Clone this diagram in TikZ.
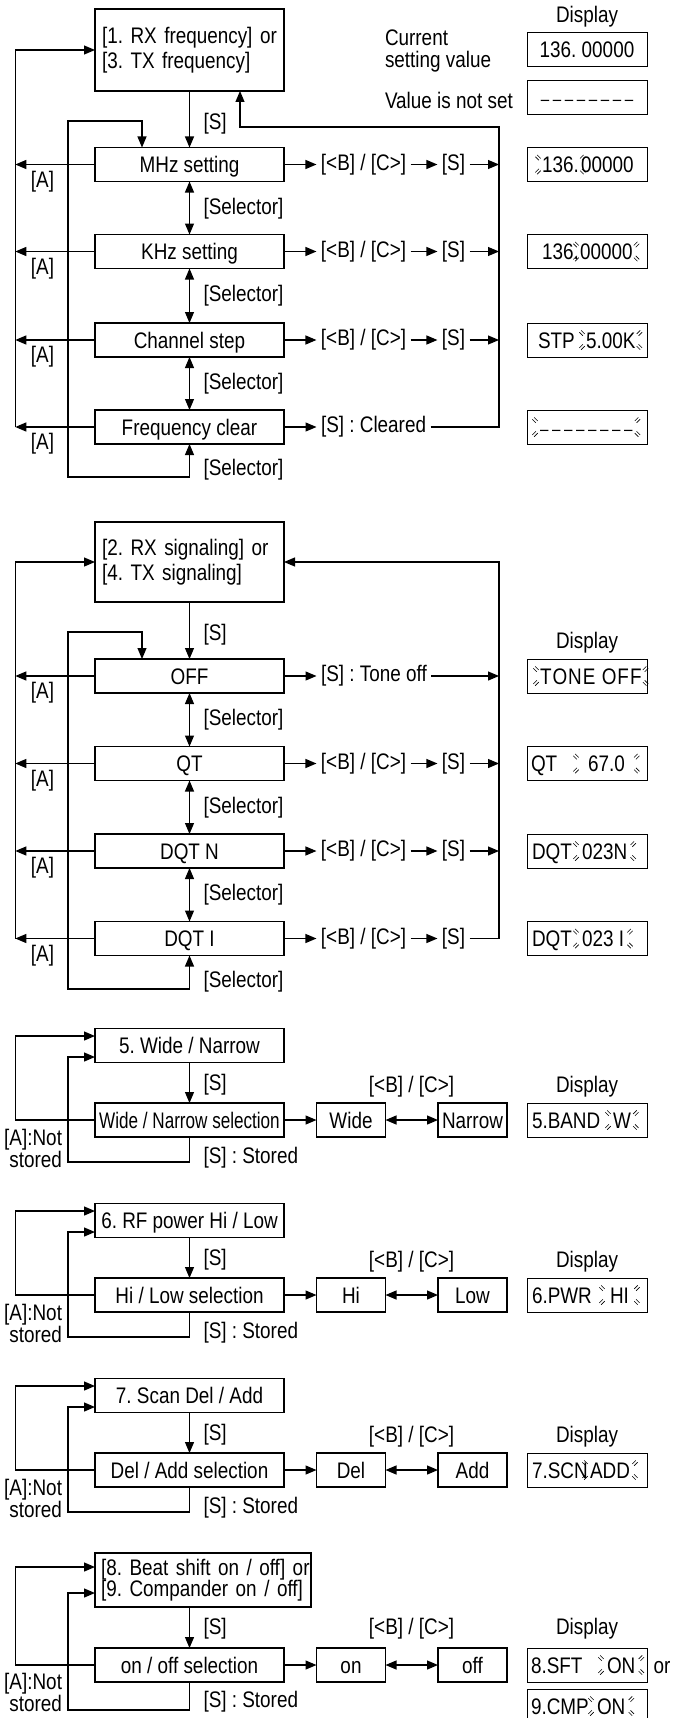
\documentclass[tikz,border=0pt]{standalone}
\usepackage{fontspec}
\setmainfont{Liberation Sans}[FakeStretch=0.84]
\newfontfamily\narrowfont{Liberation Sans}[FakeStretch=0.76]
\usetikzlibrary{arrows.meta}
\frenchspacing
\tikzset{
  every node/.style={font=\fontsize{22.5}{25}\selectfont, inner sep=0pt, outer sep=0pt},
  conn/.style={line width=1.2pt},
  arr/.style={conn, -{Triangle[length=11pt,width=9pt]}},
  darr/.style={conn, {Triangle[length=11pt,width=9pt]}-{Triangle[length=11pt,width=9pt]}},
  bx/.style={draw, line width=1.8pt, minimum width=189pt, minimum height=34pt},
  box/.style={bx, text height=16pt, text depth=0pt},
  sbox/.style={draw, line width=1.6pt, minimum width=69pt, minimum height=34pt, text height=16pt, text depth=0pt},
  dbox/.style={draw, line width=1pt, minimum width=120pt, minimum height=34pt, text height=16pt, text depth=0pt},
  lbl/.style={anchor=west},
  klbl/.style={inner xsep=4.5pt},
  dtxt/.style={anchor=base west},
  blk/.style={anchor=base west, inner xsep=#1},
  blk/.default=1pt,
  mk/.style={line width=0.6pt},
  anot/.style={anchor=east, align=right, font=\fontsize{22.5}{20}\selectfont},
}
\newcommand\dashrow{{\fontsize{18}{20}\selectfont –\kern3.6pt–\kern3.6pt–\kern3.6pt–\kern3.6pt–\kern3.6pt–\kern3.6pt–\kern3.6pt–}}
\newcommand\mkA[1]{\draw[mk] ([shift={(-0.85,-2.69)}]#1) -- ([shift={(2.69,0.85)}]#1) ([shift={(-2.69,-0.85)}]#1) -- ([shift={(0.85,2.69)}]#1);}
\newcommand\mkB[1]{\draw[mk] ([shift={(-0.85,2.69)}]#1) -- ([shift={(2.69,-0.85)}]#1) ([shift={(-2.69,0.85)}]#1) -- ([shift={(0.85,-2.69)}]#1);}
\newcommand\blinkmarks[1]{%
  \coordinate (#1-a) at ([shift={(-3,0.8)}]#1.north west);
  \coordinate (#1-b) at ([shift={(3,0.8)}]#1.north east);
  \coordinate (#1-c) at ([shift={(-3,-1.2)}]#1.south west);
  \coordinate (#1-d) at ([shift={(3,-1.2)}]#1.south east);
  \mkA{#1-a}\mkB{#1-b}\mkB{#1-c}\mkA{#1-d}}
\begin{document}
\frenchspacing
\begin{tikzpicture}[x=1pt,y=-1pt]
\useasboundingbox (0,0) rectangle (686,1718);

% ================= Section 1
\node[bx, minimum height=82pt, text width=175pt, inner xsep=7pt, align=left] (top1) at (189.5,50) {\mbox{[1. RX frequency] or}\\\mbox{[3. TX frequency]}};
\node[box] (mhz) at (189.5,164.5) {MHz setting};
\node[box] (khz) at (189.5,251.5) {KHz setting};
\node[box] (chs) at (189.5,340) {Channel step};
\node[box] (fqc) at (189.5,427) {Frequency clear};

\coordinate (o1t) at (15.3,50);
\coordinate (o1b) at (15.3,427);
\coordinate (l1a) at (142,121);
\coordinate (l1b) at (68,121);
\coordinate (l1c) at (68,477);
\coordinate (l1d) at (189.5,477);
\coordinate (r1b) at (499,427);
\coordinate (r1t) at (499,127);
\coordinate (r1l) at (240,127);

\draw[arr] (top1.south) -- (mhz.north);
\draw[darr] (mhz.south) -- (khz.north);
\draw[darr] (khz.south) -- (chs.north);
\draw[darr] (chs.south) -- (fqc.north);
\draw[darr] (mhz.north -| l1a) -- (l1a) -- (l1b) -- (l1c) -- (l1d) -- (fqc.south);

\draw[arr] (mhz.west) -- (mhz.west -| o1b);
\draw[arr] (khz.west) -- (khz.west -| o1b);
\draw[arr] (chs.west) -- (chs.west -| o1b);
\draw[arr] (fqc.west) -- (o1b);
\draw[arr] (o1b) -- (o1t) -- (top1.west);

\node[klbl] (bc1) at (363.5,164.5) {[<B] / [C>]};
\node[klbl] (s1) at (453.5,164.5) {[S]};
\node[klbl] (bc2) at (363.5,251.5) {[<B] / [C>]};
\node[klbl] (s2) at (453.5,251.5) {[S]};
\node[klbl] (bc3) at (363.5,340) {[<B] / [C>]};
\node[klbl] (s3) at (453.5,340) {[S]};
\node[klbl, anchor=west] (clr) at (316.5,427) {[S] : Cleared};
\draw[arr] (mhz.east) -- (bc1.west);
\draw[arr] (bc1.east) -- (s1.west);
\draw[arr] (s1.east) -- (s1.east -| r1b);
\draw[arr] (khz.east) -- (bc2.west);
\draw[arr] (bc2.east) -- (s2.west);
\draw[arr] (s2.east) -- (s2.east -| r1b);
\draw[arr] (chs.east) -- (bc3.west);
\draw[arr] (bc3.east) -- (s3.west);
\draw[arr] (s3.east) -- (s3.east -| r1b);
\draw[arr] (fqc.east) -- (clr.west);
\draw[arr] (clr.east) -- (r1b) -- (r1t) -- (r1l) -- (r1l |- top1.south);

\node[lbl] (ls1) at (203.5,124) {[S]};
\node[lbl] (sel1a) at (203.5,208.5) {[Selector]};
\node[lbl] (sel1b) at (203.5,296) {[Selector]};
\node[lbl] (sel1c) at (203.5,383.5) {[Selector]};
\node[lbl] (sel1d) at (203.5,470) {[Selector]};
\node (a1a) at (42.5,181.5) {[A]};
\node (a1b) at (42.5,268.5) {[A]};
\node (a1c) at (42.5,357) {[A]};
\node (a1d) at (42.5,444) {[A]};

\node (hd1) at (587,17) {Display};
\node[anchor=west, align=left, font=\fontsize{22.5}{22}\selectfont] (cur) at (385,51) {Current\\setting value};
\node[dbox] (d1) at (587,50) {136. 00000};
\node[anchor=west] (vns) at (385,100) {Value is not set};
\node[dbox] (d2) at (587,97.5) {\dashrow};
\node[dbox] (d3) at (587,164.5) {};
\node[blk] (d3b) at (541,172.5) {\vphantom{0}136.};
\node[dtxt] (d3t) at (581,172.5) {00000};
\blinkmarks{d3b}
\node[dbox] (d4) at (587,251.5) {};
\node[dtxt] (d4t) at (542,259.5) {136.};
\node[blk] (d4b) at (579,259.5) {\vphantom{0}00000};
\blinkmarks{d4b}
\node[dbox] (d5) at (587,340) {};
\node[dtxt] (d5t) at (538,348) {STP};
\node[blk] (d5b) at (585,348) {\vphantom{0}5.00K};
\blinkmarks{d5b}
\node[dbox] (d6) at (587,427) {};
\node[blk=2pt] (d6b) at (538,435) {\vphantom{0}\dashrow};
\blinkmarks{d6b}

% ================= Section 2
\node[bx, minimum height=80pt, text width=175pt, inner xsep=7pt, align=left] (top2) at (189.5,562) {\mbox{[2. RX signaling] or}\\\mbox{[4. TX signaling]}};
\node[box] (off) at (189.5,676) {OFF};
\node[box] (qt) at (189.5,763.5) {QT};
\node[box] (dqn) at (189.5,851) {DQT N};
\node[box] (dqi) at (189.5,938.5) {DQT I};

\coordinate (o2t) at (15.3,562);
\coordinate (o2b) at (15.3,938.5);
\coordinate (l2a) at (142,632);
\coordinate (l2b) at (68,632);
\coordinate (l2c) at (68,989);
\coordinate (l2d) at (189.5,989);
\coordinate (r2b) at (499,938.5);
\coordinate (r2t) at (499,562);

\draw[arr] (top2.south) -- (off.north);
\draw[darr] (off.south) -- (qt.north);
\draw[darr] (qt.south) -- (dqn.north);
\draw[darr] (dqn.south) -- (dqi.north);
\draw[darr] (off.north -| l2a) -- (l2a) -- (l2b) -- (l2c) -- (l2d) -- (dqi.south);

\draw[arr] (off.west) -- (off.west -| o2b);
\draw[arr] (qt.west) -- (qt.west -| o2b);
\draw[arr] (dqn.west) -- (dqn.west -| o2b);
\draw[arr] (dqi.west) -- (o2b);
\draw[arr] (o2b) -- (o2t) -- (top2.west);

\node[klbl, anchor=west] (toff) at (316.5,676) {[S] : Tone off};
\node[klbl] (bc5) at (363.5,763.5) {[<B] / [C>]};
\node[klbl] (s5) at (453.5,763.5) {[S]};
\node[klbl] (bc6) at (363.5,851) {[<B] / [C>]};
\node[klbl] (s6) at (453.5,851) {[S]};
\node[klbl] (bc7) at (363.5,938.5) {[<B] / [C>]};
\node[klbl] (s7) at (453.5,938.5) {[S]};
\draw[arr] (off.east) -- (toff.west);
\draw[arr] (toff.east) -- (toff.east -| r2b);
\draw[arr] (qt.east) -- (bc5.west);
\draw[arr] (bc5.east) -- (s5.west);
\draw[arr] (s5.east) -- (s5.east -| r2b);
\draw[arr] (dqn.east) -- (bc6.west);
\draw[arr] (bc6.east) -- (s6.west);
\draw[arr] (s6.east) -- (s6.east -| r2b);
\draw[arr] (dqi.east) -- (bc7.west);
\draw[arr] (bc7.east) -- (s7.west);
\draw[arr] (s7.east) -- (r2b) -- (r2t) -- (top2.east);

\node[lbl] (ls2) at (203.5,635) {[S]};
\node[lbl] (sel2a) at (203.5,719.5) {[Selector]};
\node[lbl] (sel2b) at (203.5,807.5) {[Selector]};
\node[lbl] (sel2c) at (203.5,894.5) {[Selector]};
\node[lbl] (sel2d) at (203.5,982) {[Selector]};
\node (a2a) at (42.5,693) {[A]};
\node (a2b) at (42.5,780.5) {[A]};
\node (a2c) at (42.5,868) {[A]};
\node (a2d) at (42.5,955.5) {[A]};

\node (hd2) at (587,643) {Display};
\node[dbox] (d7) at (587,676) {};
\node[blk] (d7b) at (539,684) {\vphantom{0}T\kern1ptO\kern1ptN\kern1ptE\kern1pt\ O\kern1ptF\kern1ptF};
\blinkmarks{d7b}
\node[dbox] (d8) at (587,763.5) {};
\node[dtxt] (d8t) at (531,771.5) {QT};
\node[blk=9pt] (d8b) at (579,771.5) {\vphantom{0}67.0};
\blinkmarks{d8b}
\node[dbox] (d9) at (587,851) {};
\node[dtxt] (d9t) at (532,859) {DQT};
\node[blk=3pt] (d9b) at (579,859) {\vphantom{0}023N};
\blinkmarks{d9b}
\node[dbox] (d10) at (587,938.5) {};
\node[dtxt] (d10t) at (532,946.5) {DQT};
\node[blk=3pt] (d10b) at (579,946.5) {\vphantom{0}023 I};
\blinkmarks{d10b}

% ================= Section 3
\node[box] (t3) at (189.5,1045.5) {5. Wide / Narrow};
\node[box, font=\narrowfont\fontsize{22.5}{25}\selectfont] (e3) at (189.5,1120) {Wide / Narrow selection};
\node[sbox] (w3) at (351,1120) {Wide};
\node[sbox] (n3) at (472.5,1120) {Narrow};
\coordinate (o3t) at (15.3,1036);
\coordinate (i3t) at (68,1057);
\coordinate (i3b) at (68,1162);
\draw[arr] (t3.south) -- (e3.north);
\draw[arr] (e3.west) -| (o3t) -- (o3t -| t3.west);
\draw[arr] (e3.south) |- (i3b) -- (i3t) -- (i3t -| t3.west);
\draw[arr] (e3.east) -- (w3.west);
\draw[darr] (w3.east) -- (n3.west);
\node[lbl] (ls3) at (203.5,1085) {[S]};
\node[lbl] (st3) at (203.5,1158) {[S] : Stored};
\node[anot] (an3) at (62,1148) {[A]:Not\\stored};
\node (bk3) at (411.5,1087) {[<B] / [C>]};
\node (hd3) at (587,1087) {Display};
\node[dbox] (d11) at (587,1120) {};
\node[dtxt] (d11t) at (532,1128) {5.BAND};
\node[blk=2pt] (d11b) at (611,1128) {\vphantom{0}W};
\blinkmarks{d11b}

% ================= Section 4
\node[box] (t4) at (189.5,1220.5) {6. RF power Hi / Low};
\node[box] (e4) at (189.5,1295) {Hi / Low selection};
\node[sbox] (w4) at (351,1295) {Hi};
\node[sbox] (n4) at (472.5,1295) {Low};
\coordinate (o4t) at (15.3,1211);
\coordinate (i4t) at (68,1232);
\coordinate (i4b) at (68,1337);
\draw[arr] (t4.south) -- (e4.north);
\draw[arr] (e4.west) -| (o4t) -- (o4t -| t4.west);
\draw[arr] (e4.south) |- (i4b) -- (i4t) -- (i4t -| t4.west);
\draw[arr] (e4.east) -- (w4.west);
\draw[darr] (w4.east) -- (n4.west);
\node[lbl] (ls4) at (203.5,1260) {[S]};
\node[lbl] (st4) at (203.5,1333) {[S] : Stored};
\node[anot] (an4) at (62,1323) {[A]:Not\\stored};
\node (bk4) at (411.5,1262) {[<B] / [C>]};
\node (hd4) at (587,1262) {Display};
\node[dbox] (d12) at (587,1295) {};
\node[dtxt] (d12t) at (532,1303) {6.PWR};
\node[blk=5pt] (d12b) at (605,1303) {\vphantom{0}HI};
\blinkmarks{d12b}

% ================= Section 5
\node[box] (t5) at (189.5,1395.5) {7. Scan Del / Add};
\node[box] (e5) at (189.5,1470) {Del / Add selection};
\node[sbox] (w5) at (351,1470) {Del};
\node[sbox] (n5) at (472.5,1470) {Add};
\coordinate (o5t) at (15.3,1386);
\coordinate (i5t) at (68,1407);
\coordinate (i5b) at (68,1512);
\draw[arr] (t5.south) -- (e5.north);
\draw[arr] (e5.west) -| (o5t) -- (o5t -| t5.west);
\draw[arr] (e5.south) |- (i5b) -- (i5t) -- (i5t -| t5.west);
\draw[arr] (e5.east) -- (w5.west);
\draw[darr] (w5.east) -- (n5.west);
\node[lbl] (ls5) at (203.5,1435) {[S]};
\node[lbl] (st5) at (203.5,1508) {[S] : Stored};
\node[anot] (an5) at (62,1498) {[A]:Not\\stored};
\node (bk5) at (411.5,1437) {[<B] / [C>]};
\node (hd5) at (587,1437) {Display};
\node[dbox] (d13) at (587,1470) {};
\node[dtxt] (d13t) at (532,1478) {7.SCN};
\node[blk=2pt] (d13b) at (588,1478) {\vphantom{0}ADD};
\blinkmarks{d13b}

% ================= Section 6
\node[bx, minimum width=216pt, minimum height=54pt, text width=204pt, inner xsep=6pt, align=left, font=\fontsize{22.5}{21}\selectfont] (t6) at (203,1580) {\mbox{[8. Beat shift on / off] or}\\\mbox{[9. Compander on / off]}};
\node[box] (e6) at (189.5,1665) {on / off selection};
\node[sbox] (w6) at (351,1665) {on};
\node[sbox] (n6) at (472.5,1665) {off};
\coordinate (o6t) at (15.3,1567);
\coordinate (i6t) at (68,1593);
\coordinate (i6b) at (68,1710);
\draw[arr] (e6.north |- t6.south) -- (e6.north);
\draw[arr] (e6.west) -| (o6t) -- (o6t -| t6.west);
\draw[arr] (e6.south) |- (i6b) -- (i6t) -- (i6t -| t6.west);
\draw[arr] (e6.east) -- (w6.west);
\draw[darr] (w6.east) -- (n6.west);
\node[lbl] (ls6) at (203.5,1629) {[S]};
\node[lbl] (st6) at (203.5,1702) {[S] : Stored};
\node[anot] (an6) at (62,1692.5) {[A]:Not\\stored};
\node (bk6) at (411.5,1629) {[<B] / [C>]};
\node (hd6) at (587,1629) {Display};
\node[dbox] (d14) at (587,1665) {};
\node[dtxt] (d14t) at (531,1673) {8.SFT};
\node[blk=3pt] (d14b) at (604,1673) {\vphantom{0}ON};
\blinkmarks{d14b}
\node[anchor=base] (orr) at (662,1673) {or};
\node[dbox] (d15) at (587,1706) {};
\node[dtxt] (d15t) at (531,1714) {9.CMP};
\node[blk=3pt] (d15b) at (594,1714) {\vphantom{0}ON};
\blinkmarks{d15b}
\end{tikzpicture}
\end{document}
